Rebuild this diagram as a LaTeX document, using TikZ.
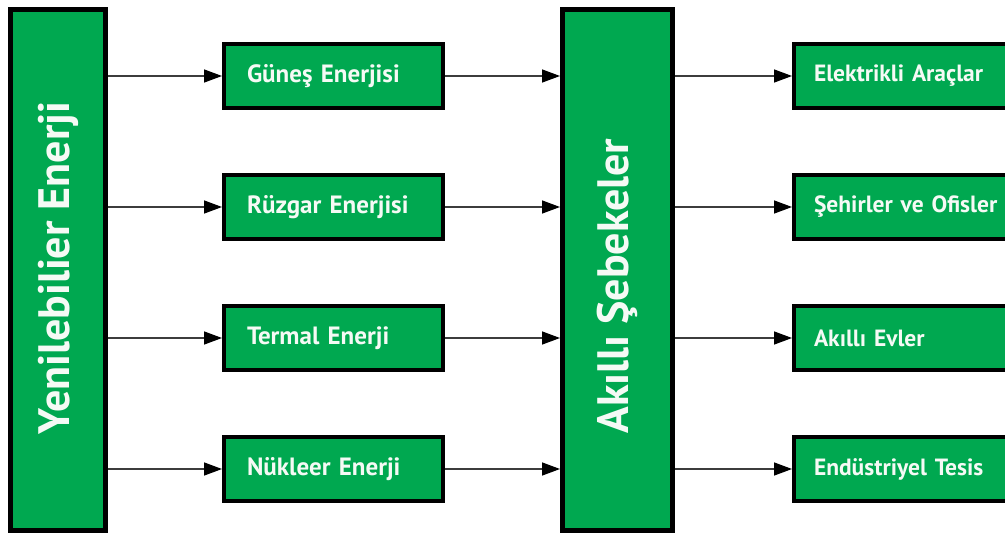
\documentclass[tikz,border=0pt]{standalone}
\usepackage{fontspec}
\setmainfont{PT Sans}
\usetikzlibrary{arrows.meta}
\definecolor{boxgreen}{RGB}{0,168,80}
\definecolor{txtwhite}{RGB}{245,250,245}
\definecolor{linegray}{RGB}{60,60,60}
\tikzset{
  bigbox/.style={draw=black, line width=5pt, fill=boxgreen, minimum width=95pt, minimum height=521pt, inner sep=0pt},
  bigtext/.style={text=txtwhite, font=\fontsize{44}{44}\selectfont\bfseries, rotate=90},
  smallbox/.style={draw=black, line width=4pt, fill=boxgreen, minimum height=64pt, text=txtwhite,
     font=\fontsize{25}{25}\selectfont\bfseries, align=left, inner ysep=0pt},
  srcbox/.style={smallbox, text width=173pt, inner xsep=23pt},
  dstbox/.style={smallbox, text width=230pt, inner xsep=20pt, font=\fontsize{23.5}{24}\selectfont\bfseries},
  conn/.style={draw=linegray, line width=1.5pt, -{Triangle[length=18pt,width=13pt,color=black]}}
}
\begin{document}
\begin{tikzpicture}[x=1pt,y=-1pt]
\useasboundingbox (0,0) rectangle (1005,535);
\clip (0,0) rectangle (1005,535);
\fill[white] (0,0) rectangle (1005,535);
% big boxes
\node[bigbox] (L) at (58,270) {};
\node[bigtext] (Lt) at (58,268) {Yenilebilier Enerji};
\node[bigbox, minimum width=110pt] (M) at (617.5,270) {};
\node[bigtext] (Mt) at (617.5,286) {Akıllı Şebekeler};
% sources
\node[srcbox] (g1) at (333.5,76) {Güneş Enerjisi};
\node[srcbox] (g2) at (333.5,207) {Rüzgar Enerjisi};
\node[srcbox] (g3) at (333.5,338) {Termal Enerji};
\node[srcbox] (g4) at (333.5,469) {Nükleer Enerji};
% destinations
\node[dstbox, anchor=west] (e1) at (792,76) {Elektrikli Araçlar};
\node[dstbox, anchor=west] (e2) at (792,207) {Şehirler ve Ofisler};
\node[dstbox, anchor=west] (e3) at (792,338) {Akıllı Evler};
\node[dstbox, anchor=west] (e4) at (792,469) {Endüstriyel Tesis};
% connectors
\foreach \i in {1,2,3,4}{
  \draw[conn] (L.east |- g\i.west) -- (g\i.west);
  \draw[conn] (g\i.east) -- (M.west |- g\i.east);
  \draw[conn] (M.east |- e\i.west) -- (e\i.west);
}
\end{tikzpicture}
\end{document}
